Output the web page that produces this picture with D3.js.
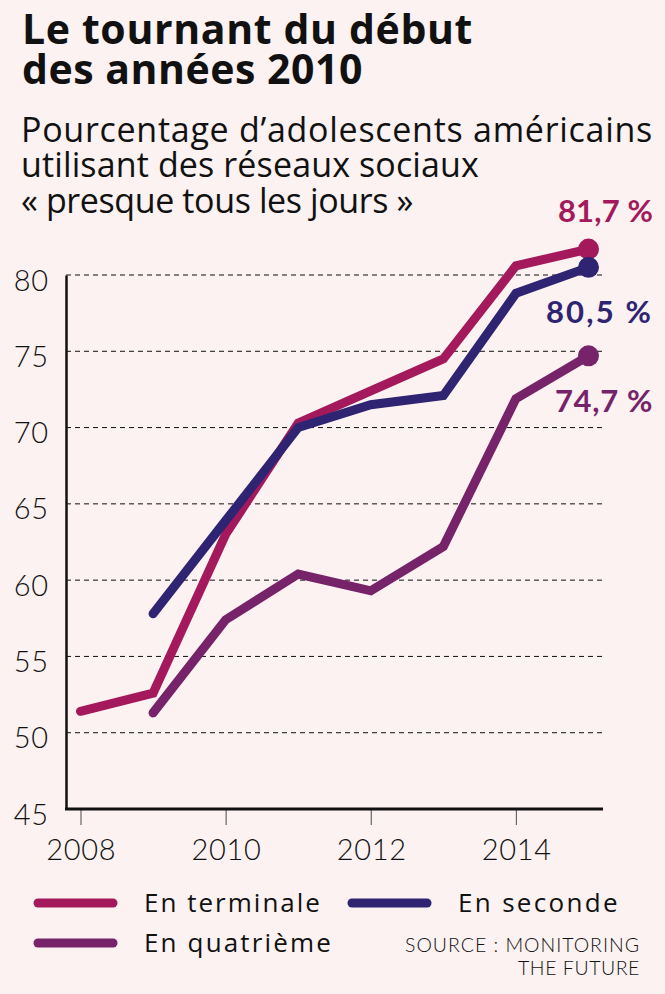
<!DOCTYPE html>
<html><head><meta charset="utf-8">
<script src="https://cdn.jsdelivr.net/npm/d3@7"></script>
<style>
html,body{margin:0;padding:0;background:#FCF2F1;}
svg{display:block;font-family:Lato,"Noto Sans",sans-serif;}
</style></head>
<body><svg id="c" width="665" height="994"></svg>
<script>
const years = [2008, 2009, 2010, 2011, 2012, 2013, 2014, 2015];
const terminale = [51.4, 52.6, 63.0, 70.3, 72.4, 74.5, 80.6, 81.7];
const seconde = [null, 57.8, 63.9, 70.0, 71.5, 72.1, 78.8, 80.5];
const quatrieme = [null, 51.3, 57.4, 60.4, 59.3, 62.2, 71.9, 74.7];
const seriesNames = ["En terminale", "En seconde", "En quatrième"];
const seriesColors = ["#A3195B", "#2E2472", "#76236A"];
const endLabels = ["81,7 %", "80,5 %", "74,7 %"];
const yTicks = [45, 50, 55, 60, 65, 70, 75, 80];
const xTicks = [2008, 2010, 2012, 2014];

const svg = d3.select("#c");
svg.append("rect").attr("width", 665).attr("height", 994).attr("fill", "#FCF2F1");

const OS = "'Open Sans', Lato, sans-serif";
// place a text so that it spans a given width (letter-spacing adjusted)
function place(str, o) {
  const t = svg.append("text").attr("y", o.y).attr("font-size", o.size)
    .attr("font-weight", o.weight || 400).attr("font-family", o.family || "Lato, sans-serif")
    .attr("fill", o.fill || "#111").text(str);
  const nat = t.node().getComputedTextLength();
  const ls = (o.width - nat) / str.length;
  t.attr("letter-spacing", ls);
  const left = o.anchor === "end" ? o.x - o.width : o.x;
  t.attr("x", left);
  return t;
}
function spread(sel, perChar, anchor) {
  sel.each(function() {
    const t = d3.select(this);
    const s = t.text();
    const nat = this.getComputedTextLength();
    const ls = (perChar * s.length - nat) / s.length;
    t.attr("letter-spacing", ls);
    const x0 = +t.attr("x") || 0;
    if (anchor === "end") t.attr("x", x0 + ls);
    else if (anchor === "middle") t.attr("x", x0 + ls / 2);
  });
}

// Title
place("Le tournant du début", {x: 22, y: 44, size: 41, weight: 700, width: 451, family: OS});
place("des années 2010", {x: 22, y: 84, size: 41, weight: 700, width: 341, family: OS});
// Subtitle
place("Pourcentage d’adolescents américains", {x: 21, y: 142, size: 34, weight: 400, width: 632, family: OS});
place("utilisant des réseaux sociaux", {x: 21, y: 177, size: 34, weight: 400, width: 458, family: OS});
place("« presque tous les jours »", {x: 21, y: 213, size: 34, weight: 400, width: 392, family: OS});

// Scales
const x = d3.scaleLinear().domain([2008, 2015]).range([80.5, 588.5]);
const y = d3.scaleLinear().domain([45, 80]).range([809, 275]);
const xLeft = 66, xRight = 603;

// Grid
svg.append("g").selectAll("line").data(yTicks.filter(d => d > 45)).join("line")
  .attr("x1", xLeft).attr("x2", xRight).attr("y1", d => y(d)).attr("y2", d => y(d))
  .attr("stroke", "#111").attr("stroke-width", 1).attr("stroke-dasharray", "5,4");

// Y axis
const yAxis = svg.append("g").attr("transform", `translate(${xLeft},0)`)
  .call(d3.axisLeft(y).tickValues(yTicks).tickSize(0).tickSizeOuter(0).tickPadding(18).tickFormat(d3.format("d")));
yAxis.select(".domain").attr("stroke", "#111").attr("stroke-width", 2.5);
yAxis.selectAll("text").attr("font-size", 29).attr("font-family", "Lato, sans-serif").attr("font-weight", 300)
  .attr("fill", "#111").attr("dy", 0).attr("y", 15);
spread(yAxis.selectAll("text"), 17.5, "end");

// X axis
const xAxis = svg.append("g").attr("transform", `translate(0,${y(45)})`)
  .call(d3.axisBottom(x).tickValues(xTicks).tickSize(16).tickPadding(16).tickFormat(d3.format("d")));
xAxis.select(".domain").remove();
xAxis.append("line").attr("x1", xLeft - 1).attr("x2", xRight).attr("stroke", "#111").attr("stroke-width", 3);
xAxis.selectAll(".tick line").attr("stroke", "#666").attr("stroke-width", 1.2);
xAxis.selectAll("text").attr("font-size", 29).attr("font-family", "Lato, sans-serif").attr("font-weight", 300)
  .attr("fill", "#111").attr("dy", 0).attr("y", 51);
spread(xAxis.selectAll("text"), 17.5, "middle");

// Lines
const data = [terminale, seconde, quatrieme];
const line = d3.line().defined(d => d[1] != null).x(d => x(d[0])).y(d => y(d[1]));
[0, 1, 2].forEach(i => {
  const pts = years.map((yr, j) => [yr, data[i][j]]);
  svg.append("path").attr("d", line(pts)).attr("fill", "none")
    .attr("stroke", seriesColors[i]).attr("stroke-width", 9)
    .attr("stroke-linejoin", "miter").attr("stroke-linecap", "round");
});
[0, 1, 2].forEach(i => {
  const last = years.length - 1;
  svg.append("circle").attr("cx", x(years[last])).attr("cy", y(data[i][last])).attr("r", 10.5).attr("fill", seriesColors[i]);
});

// End labels
const labelPos = [{y: 222, w: 95}, {y: 323, w: 107}, {y: 412, w: 98}];
endLabels.forEach((t, i) => {
  place(t, {x: 653, y: labelPos[i].y, size: 31, weight: 700, width: labelPos[i].w, anchor: "end", fill: seriesColors[i]});
});

// Legend
const legend = [
  {i: 0, lx: 34, ly: 903, tx: 144, ty: 912, w: 178},
  {i: 1, lx: 348, ly: 903, tx: 458, ty: 912, w: 162},
  {i: 2, lx: 34, ly: 943, tx: 144, ty: 952, w: 189}
];
legend.forEach(l => {
  svg.append("line").attr("x1", l.lx + 4).attr("x2", l.lx + 79).attr("y1", l.ly).attr("y2", l.ly)
    .attr("stroke", seriesColors[l.i]).attr("stroke-width", 9).attr("stroke-linecap", "round");
  place(seriesNames[l.i], {x: l.tx, y: l.ty, size: 26, weight: 400, width: l.w, family: OS});
});

// Source
place("SOURCE : MONITORING", {x: 640, y: 952, size: 19.5, weight: 300, width: 235, anchor: "end"});
place("THE FUTURE", {x: 640, y: 975, size: 19.5, weight: 300, width: 122, anchor: "end"});
</script></body></html>
